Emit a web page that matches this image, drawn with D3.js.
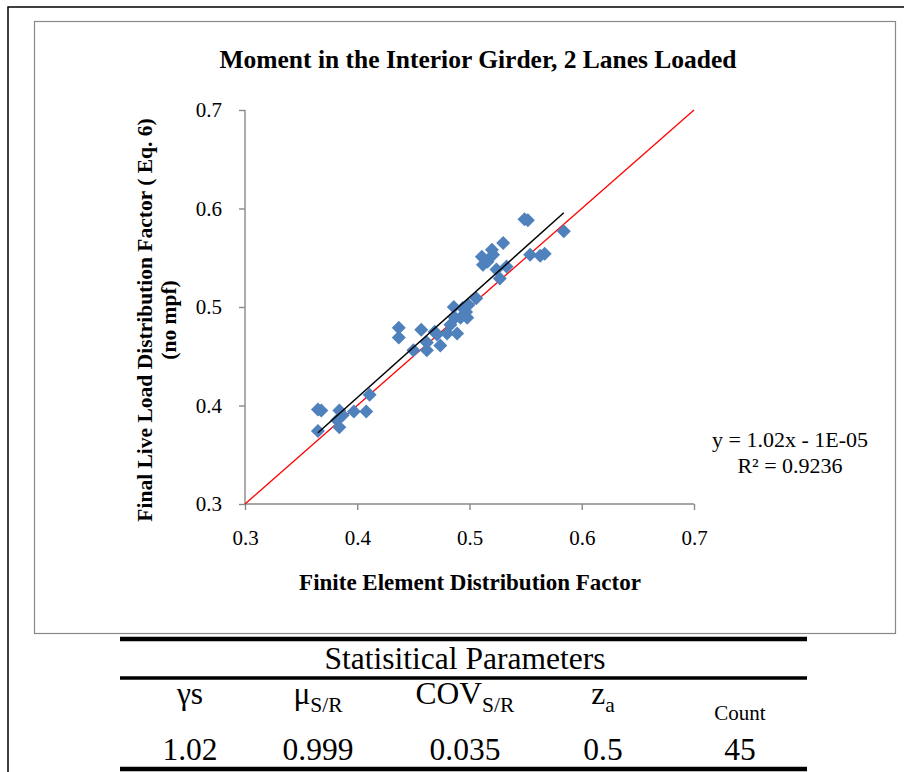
<!DOCTYPE html>
<html><head><meta charset="utf-8">
<script src="https://cdn.jsdelivr.net/npm/d3@7"></script>
<style>body{margin:0;background:#fff}svg{display:block}</style>
</head><body>
<svg id="c" width="904" height="772"></svg>
<script>
const title = "Moment in the Interior Girder, 2 Lanes Loaded";
const xTitle = "Finite Element Distribution Factor";
const yTitle = ["Final Live Load Distribution Factor ( Eq. 6)", "(no mpf)"];
const xTicks = [0.3, 0.4, 0.5, 0.6, 0.7];
const yTicks = [0.3, 0.4, 0.5, 0.6, 0.7];
const feX = [0.365,0.368,0.365,0.384,0.382,0.384,0.397,0.408,0.411,0.437,0.437,0.450,0.457,0.462,0.469,0.474,0.471,0.480,0.483,0.486,0.489,0.487,0.492,0.494,0.497,0.506,0.511,0.512,0.520,0.521,0.530,0.527,0.533,0.552,0.554,0.563,0.567,0.584,0.516,0.524,0.549,0.499,0.498,0.387,0.462];
const eqY = [0.396,0.395,0.374,0.395,0.385,0.378,0.394,0.394,0.411,0.479,0.469,0.456,0.477,0.464,0.475,0.461,0.472,0.473,0.482,0.500,0.473,0.489,0.489,0.499,0.495,0.509,0.551,0.543,0.558,0.553,0.565,0.529,0.541,0.588,0.553,0.552,0.554,0.577,0.546,0.538,0.589,0.502,0.489,0.390,0.456];
const trend = {slope: 1.02, intercept: -0.00001};
const eqLabels = ["y = 1.02x - 1E-05", "R² = 0.9236"];
const tableTitle = "Statisitical Parameters";
const statHeaders = [["γs",""],["μ","S/R"],["COV","S/R"],["z","a"],["Count",""]];
const statValues = ["1.02","0.999","0.035","0.5","45"];

const SERIF = "'Liberation Serif', 'Times New Roman', serif";
const svg = d3.select("#c").style("font-family", SERIF);
// outer border
svg.append("rect").attr("x",8).attr("y",7).attr("width",910).attr("height",780)
  .attr("fill","none").attr("stroke","#000").attr("stroke-width",1.5);
// chart area border
svg.append("rect").attr("x",34.5).attr("y",21.5).attr("width",861).attr("height",612)
  .attr("fill","#fff").attr("stroke","#898989").attr("stroke-width",1.2);

const x = d3.scaleLinear().domain([0.3,0.7]).range([245,694]);
const y = d3.scaleLinear().domain([0.3,0.7]).range([504,110]);

svg.append("text").attr("x",478).attr("y",68).attr("text-anchor","middle")
  .attr("font-size",25.5).attr("font-weight","bold").text(title);

const gx = svg.append("g").attr("transform","translate(0,504)")
  .call(d3.axisBottom(x).tickValues(xTicks).tickFormat(d3.format(".1f")).tickSize(6).tickPadding(20));
const gy = svg.append("g").attr("transform","translate(245,0)")
  .call(d3.axisLeft(y).tickValues(yTicks).tickFormat(d3.format(".1f")).tickSize(6).tickPadding(17));
[gx,gy].forEach(g=>{
  g.attr("font-family", SERIF);
  g.selectAll("path,line").attr("stroke","#898989").attr("stroke-width",1.4);
  g.selectAll("text").attr("font-size",21).attr("fill","#000");
});
gx.select(".domain").attr("d","M245,0H694");
gy.select(".domain").attr("d","M0,504V110");

// y = x reference
svg.append("line").attr("x1",x(0.3)).attr("y1",y(0.3)).attr("x2",x(0.7)).attr("y2",y(0.7))
  .attr("stroke","#ff0000").attr("stroke-width",1.3);

// points
const diamond = "M0,-7L7,0L0,7L-7,0Z";
svg.append("g").selectAll("path").data(feX.map((d,i)=>[d,eqY[i]])).join("path")
  .attr("d",diamond).attr("transform",d=>`translate(${x(d[0])},${y(d[1])})`)
  .attr("fill","#4f81bd");

// trendline
const xmin = d3.min(feX), xmax = d3.max(feX);
svg.append("line").attr("x1",x(xmin)).attr("y1",y(trend.slope*xmin+trend.intercept))
  .attr("x2",x(xmax)).attr("y2",y(trend.slope*xmax+trend.intercept))
  .attr("stroke","#000").attr("stroke-width",1.5);

// equation
eqLabels.forEach((t,i)=>svg.append("text").attr("x",790).attr("y",447+i*26)
  .attr("text-anchor","middle").attr("font-size",22).text(t));

// axis titles
svg.append("text").attr("x",470).attr("y",590).attr("text-anchor","middle")
  .attr("font-size",23).attr("font-weight","bold").text(xTitle);
yTitle.forEach((t,i)=>svg.append("text").attr("transform",`translate(${152+i*24},320) rotate(-90)`)
  .attr("text-anchor","middle").attr("font-size",21.5).attr("font-weight","bold").text(t));

// table
const tl = 120, tr = 807;
[[639,4.5],[678,3.5],[769,4.5]].forEach(([yy,w])=>svg.append("line").attr("x1",tl).attr("x2",tr)
  .attr("y1",yy).attr("y2",yy).attr("stroke","#000").attr("stroke-width",w));
svg.append("text").attr("x",465).attr("y",669).attr("text-anchor","middle")
  .style("font-family",SERIF).attr("font-size",31.5).text(tableTitle);
const colX = [190,318,465,603,740];
statHeaders.forEach((h,i)=>{
  const t = svg.append("text").attr("x",colX[i]).attr("text-anchor","middle").style("font-family",SERIF);
  if(i===4){ t.attr("y",720).attr("font-size",21).text(h[0]); return; }
  t.attr("y",704).attr("font-size",31.5);
  t.append("tspan").text(h[0]);
  if(h[1]) t.append("tspan").attr("font-size",21.5).attr("dy",8).text(h[1]);
});
statValues.forEach((v,i)=>svg.append("text").attr("x",colX[i]).attr("y",760)
  .style("font-family",SERIF).attr("text-anchor","middle").attr("font-size",31.5).text(v));
</script>
</body></html>
